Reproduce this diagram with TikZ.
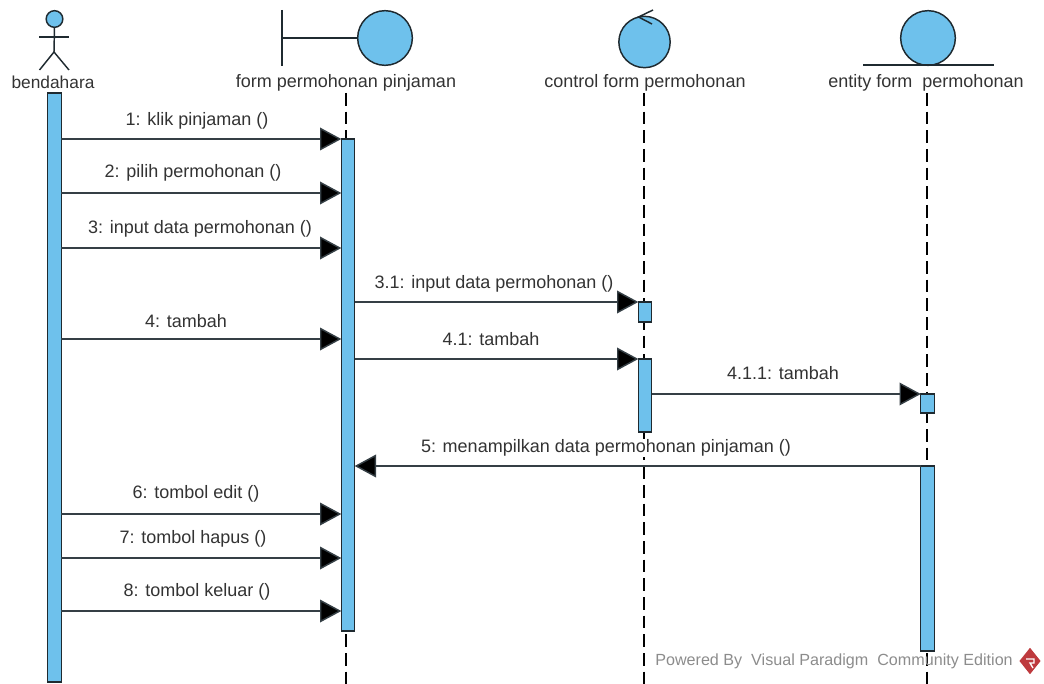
\documentclass[tikz,border=0pt]{standalone}
\usepackage{fontspec}
\setmainfont{Liberation Sans}
\usetikzlibrary{arrows.meta,shapes.geometric}
\definecolor{vpblue}{HTML}{6EC1EC}
\definecolor{vptext}{HTML}{333333}
\definecolor{vpgray}{HTML}{8C8C8C}
\definecolor{vpred}{HTML}{BE3A3E}
\definecolor{vpline}{HTML}{1F2A30}
\tikzset{
  lbl/.style={inner sep=1pt,text=vptext,font=\fontsize{13.5}{15}\selectfont},
  msglbl/.style={lbl,fill=white,inner sep=0.5pt},
  bar/.style={draw=vpline,fill=vpblue,line width=0.9pt,inner sep=0pt,outer sep=0pt,minimum width=10pt,rectangle},
  lifeline/.style={draw=black,line width=0.9pt,dash pattern=on 9.5pt off 4.5pt},
  msg/.style={draw=vpline!90,line width=1.1pt,-{Triangle[length=16pt,width=17pt,fill=black]}},
  icon/.style={draw=vpline,line width=1.1pt},
  iconcirc/.style={icon,fill=vpblue,circle,inner sep=0pt,outer sep=0pt}
}
\begin{document}
\begin{tikzpicture}[x=0.75pt,y=-0.75pt]
\useasboundingbox (0,0) rectangle (1044,684);
% lifeline ends
\coordinate (lf0) at (346,93); \coordinate (lf1) at (346,684);
\coordinate (lc0) at (644,93); \coordinate (lc1) at (644,684);
\coordinate (le0) at (927,93); \coordinate (le1) at (927,684);
\draw[lifeline] (lf0) -- (lf1);
\draw[lifeline] (lc0) -- (lc1);
\draw[lifeline] (le0) -- (le1);
% watermark under entity lifeline
\node[lbl,text=vpgray,anchor=west,inner sep=0pt,font=\fontsize{12.1}{14}\selectfont] (wm) at (655,661) {Powered By\ \ Visual Paradigm\ \ Community Edition};
\node[diamond,fill=vpred,inner sep=0pt,minimum width=16pt,minimum height=20pt] (logo) at (1030,661) {};
\draw[white,line width=1pt] (1026,659) -- (1034,659) -- (1034,663) -- (1030,663) -- (1033,668);
% activation bars
\node[bar,minimum height=441.75pt] (ba)  at (54.5,387.5) {};
\node[bar,minimum height=369pt]    (bf)  at (348,385) {};
\node[bar,minimum height=15pt]     (bc1) at (645,312) {};
\node[bar,minimum height=54.75pt]  (bc2) at (645,395.5) {};
\node[bar,minimum height=14.25pt]  (be1) at (927.5,403.5) {};
\node[bar,minimum height=138.75pt] (be2) at (927.5,558.5) {};
% messages
\draw[msg] (ba.east |- 0,139) -- (bf.west |- 0,139);
\draw[msg] (ba.east |- 0,193) -- (bf.west |- 0,193);
\draw[msg] (ba.east |- 0,248) -- (bf.west |- 0,248);
\draw[msg] (bf.east |- 0,302) -- (bc1.north west);
\draw[msg] (ba.east |- 0,339) -- (bf.west |- 0,339);
\draw[msg] (bf.east |- 0,359) -- (bc2.north west);
\draw[msg] (bc2.east |- be1.north) -- (be1.north west);
\draw[msg] (be2.north west) -- (bf.east |- be2.north);
\draw[msg] (ba.east |- 0,514) -- (bf.west |- 0,514);
\draw[msg] (ba.east |- 0,558) -- (bf.west |- 0,558);
\draw[msg] (ba.east |- 0,611) -- (bf.west |- 0,611);
% message labels
\node[msglbl] (t1)  at (197,121) {1: klik pinjaman ()};
\node[msglbl] (t2)  at (193,173) {2: pilih permohonan ()};
\node[msglbl] (t3)  at (200,229) {3: input data permohonan ()};
\node[msglbl] (t31) at (494,284) {3.1: input data permohonan ()};
\node[msglbl] (t4)  at (186,321) {4: tambah};
\node[msglbl] (t41) at (491,339) {4.1: tambah};
\node[msglbl] (t411) at (783,373) {4.1.1: tambah};
\node[msglbl] (t5)  at (606,448) {5: menampilkan data permohonan pinjaman ()};
\node[msglbl] (t6)  at (196,494) {6: tombol edit ()};
\node[msglbl] (t7)  at (193,539) {7: tombol hapus ()};
\node[msglbl] (t8)  at (197,592) {8: tombol keluar ()};
% actor
\node[iconcirc,minimum size=12.5pt] (head) at (54.5,19) {};
\coordinate (hip) at (54,52);
\coordinate (armL) at (39,37); \coordinate (armR) at (69,37);
\coordinate (legL) at (39.5,70); \coordinate (legR) at (69,70);
\draw[icon] (head.south) -- (hip);
\draw[icon] (armL) -- (armR);
\draw[icon] (legL) -- (hip) -- (legR);
\node[lbl,font=\fontsize{13}{15}\selectfont] (na) at (53,82) {bendahara};
% boundary
\node[iconcirc,minimum size=41pt] (fc) at (385,38) {};
\coordinate (ft) at (282,10); \coordinate (fb) at (282,66); \coordinate (fm) at (282,38);
\draw[icon] (ft) -- (fb);
\draw[icon] (fm) -- (fc.west);
\node[lbl] (nf) at (346,83) {form permohonan pinjaman};
% control
\node[iconcirc,minimum size=38.5pt] (cc) at (644.5,42) {};
\coordinate (ca) at (653,10); \coordinate (cb) at (638.5,17); \coordinate (cd) at (652,24);
\draw[icon] (ca) -- (cb) -- (cd);
\node[lbl] (nc) at (645,83) {control form permohonan};
% entity
\node[iconcirc,minimum size=41pt] (ec) at (928,38) {};
\coordinate (el) at (863,65); \coordinate (er) at (994,65);
\draw[icon] (el) -- (er);
\node[lbl] (ne) at (926,83) {entity form\ \ permohonan};
\end{tikzpicture}
\end{document}
